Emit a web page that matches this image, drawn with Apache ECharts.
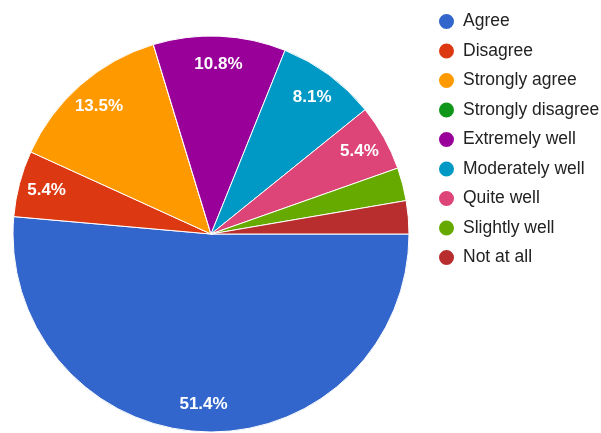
<!DOCTYPE html>
<html>
<head>
<meta charset="utf-8">
<script src="https://cdn.jsdelivr.net/npm/echarts@6/dist/echarts.min.js"></script>
<style>
  html, body { margin: 0; padding: 0; background: #fff; }
  #chart { width: 601px; height: 433px; }
</style>
</head>
<body>
<div id="chart"></div>
<script>
// Response categories, in clockwise order starting at 3 o'clock
const categories = [
  'Agree', 'Disagree', 'Strongly agree', 'Strongly disagree',
  'Extremely well', 'Moderately well', 'Quite well', 'Slightly well', 'Not at all'
];
// Share of responses, in percent
const shares = [51.4, 5.4, 13.5, 0, 10.8, 8.1, 5.4, 2.7, 2.7];
// Slice colours
const palette = [
  '#3366cc', '#dc3912', '#ff9900', '#109618', '#990099',
  '#0099c6', '#dd4477', '#66aa00', '#b82e2e'
];

const pieData = categories.map((name, i) => ({ name, value: shares[i] }));
const center = [211, 234];
const outerR = 198;

const chart = echarts.init(document.getElementById('chart'), null, { renderer: 'canvas' });
chart.setOption({
  animation: false,
  backgroundColor: '#ffffff',
  color: palette,
  legend: {
    orient: 'vertical',
    left: 437,
    top: 12,
    padding: 0,
    icon: 'circle',
    itemWidth: 17,
    itemHeight: 17,
    itemGap: 10.5,
    selectedMode: false,
    data: categories,
    textStyle: {
      fontFamily: 'Arial, "Liberation Sans", sans-serif',
      fontSize: 17.5,
      color: '#222222',
      padding: [0, 0, 0, 3]
    }
  },
  series: [
    {
      // the pie itself
      type: 'pie',
      center: center,
      radius: [0, outerR],
      startAngle: 0,
      clockwise: true,
      silent: true,
      data: pieData,
      label: { show: false },
      labelLine: { show: false },
      itemStyle: { borderColor: '#ffffff', borderWidth: 1 }
    },
    {
      // invisible outer ring that places percentage labels near the rim
      type: 'pie',
      center: center,
      radius: [136, outerR],
      startAngle: 0,
      clockwise: true,
      silent: true,
      data: pieData,
      itemStyle: { color: 'rgba(0,0,0,0)', borderWidth: 0 },
      labelLine: { show: false },
      label: {
        show: true,
        position: 'inside',
        color: '#ffffff',
        fontFamily: 'Arial, "Liberation Sans", sans-serif',
        fontWeight: 'bold',
        fontSize: 17,
        formatter: p => (p.value >= 5 ? p.value.toFixed(1) + '%' : '')
      }
    }
  ]
});
</script>
</body>
</html>
